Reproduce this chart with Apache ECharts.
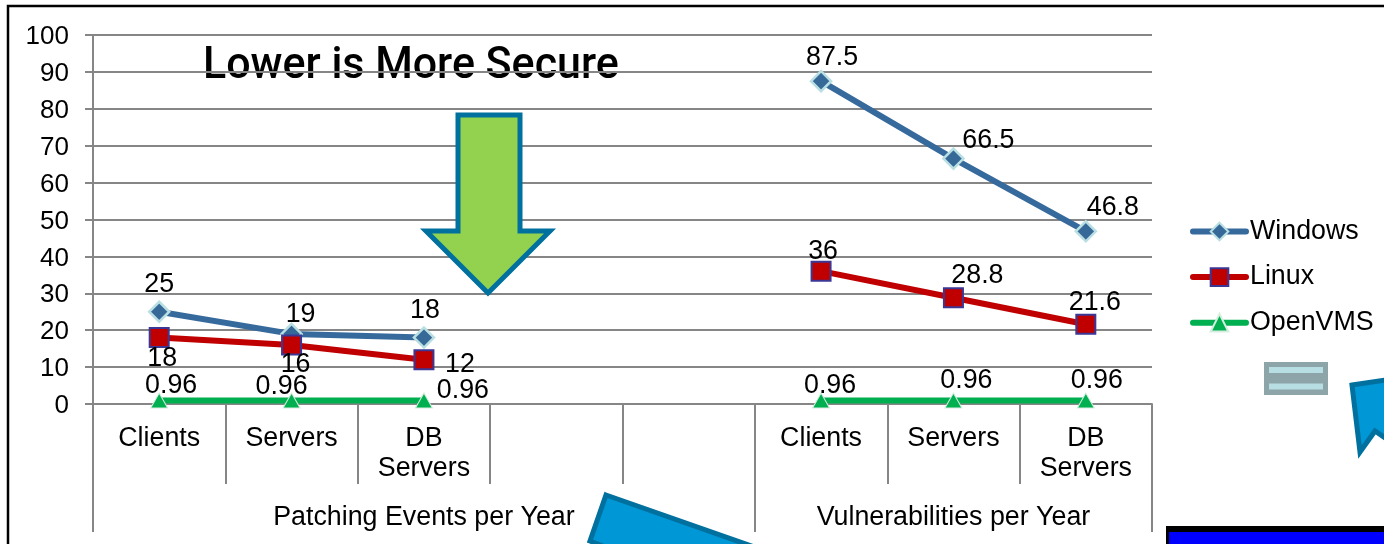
<!DOCTYPE html>
<html>
<head>
<meta charset="utf-8">
<style>html,body{margin:0;padding:0;background:#fff;overflow:hidden}#c{width:1384px;height:544px}</style>
<script src="https://cdn.jsdelivr.net/npm/echarts@6/dist/echarts.min.js"></script>
</head>
<body>
<div id="c"></div>
<script>
const chartTitle = 'Lower is More Secure';
const categories = ['Clients','Servers','DB\nServers','','','Clients','Servers','DB\nServers'];
const groupLabels = ['','','Patching Events per Year','','','','Vulnerabilities per Year',''];
const yTicks = {min:0,max:100,step:10};
const windows = [25,19,18,null,null,87.5,66.5,46.8];
const linux = [18,16,12,null,null,36,28.8,21.6];
const openvms = [0.96,0.96,0.96,null,null,0.96,0.96,0.96];
const windowsOffsets = [[0,-27],[9,-19],[1,-27],null,null,[11,-24],[35,-18],[27,-24]];
const linuxOffsets = [[3,21],[4,20],[36,5],null,null,[2,-20],[24,-22],[9,-22]];
const openvmsOffsets = [[12,-15],[-10,-14],[39,-10],null,null,[9,-15],[13,-20],[11,-20]];
const FONT = '"Liberation Sans", Arial, sans-serif';
const GRAY = '#868686';
const FS = 26.8;

function seriesOf(name, values, offsets, color, symbol, size, border, bw){
  return {
    name, type:'line', xAxisIndex:0, yAxisIndex:0, symbol, symbolSize:size,
    connectNulls:false, animation:false, z:3,
    lineStyle:{color,width:6,cap:'round'},
    itemStyle:{color: name==='Windows' ? '#366898' : color, borderColor:border, borderWidth:bw},
    emphasis:{disabled:true},
    data: values.map((v,i)=> v===null ? null : ({
      value:v,
      label:{show:true, position:'inside', offset:offsets[i], color:'#000', fontSize:FS, fontFamily:FONT,
             align:'center', verticalAlign:'middle',
             formatter:String(v)}
    }))
  };
}

const chart = echarts.init(document.getElementById('c'), null, {renderer:'canvas'});
const arrowStroke = '#00709F';
chart.setOption({
  animation:false,
  backgroundColor:'#fff',
  legend:{
    orient:'vertical', left:1190, top:218, itemWidth:53, itemHeight:22, itemGap:18.6,
    padding:0,
    lineStyle:{width:6},
    textStyle:{color:'#000', fontSize:FS, fontFamily:FONT, padding:[3,0,0,-1]},
    data:['Windows','Linux','OpenVMS']
  },
  grid:[
    {left:93, top:35, width:1059, height:369},
    {left:93, top:35, width:1059, height:369}
  ],
  xAxis:[
    {type:'category', gridIndex:0, data:categories, boundaryGap:true, position:'bottom',
     axisLine:{lineStyle:{color:GRAY,width:2}},
     axisTick:{show:true,length:80,interval:0,lineStyle:{color:GRAY,width:2}},
     axisLabel:{interval:0,margin:20,color:'#000',fontSize:FS,fontFamily:FONT,lineHeight:30,hideOverlap:false}},
    {type:'category', gridIndex:1, data:groupLabels, boundaryGap:true, position:'bottom',
     axisLine:{show:false},
     axisTick:{show:true,length:128,interval:(i)=>i===0||i===5,lineStyle:{color:GRAY,width:2}},
     axisLabel:{interval:0,margin:99,color:'#000',fontSize:FS,fontFamily:FONT,lineHeight:30,hideOverlap:false}}
  ],
  yAxis:[
    {type:'value', gridIndex:0, min:yTicks.min, max:yTicks.max, interval:yTicks.step,
     axisLine:{show:true,lineStyle:{color:GRAY,width:2}},
     axisTick:{show:true,length:8,lineStyle:{color:GRAY,width:2}},
     splitLine:{show:true,lineStyle:{color:GRAY,width:2}},
     axisLabel:{margin:24,color:'#000',fontSize:26,fontFamily:FONT,verticalAlign:'top',lineHeight:4,
                showMinLabel:true,showMaxLabel:true}},
    {type:'value', gridIndex:1, min:yTicks.min, max:yTicks.max, show:false}
  ],
  series:[
    seriesOf('Windows',windows,windowsOffsets,'#376A9C','diamond',20,'#B9DFE3',2.5),
    seriesOf('Linux',linux,linuxOffsets,'#C00000','rect',19,'#3B3795',2),
    seriesOf('OpenVMS',openvms,openvmsOffsets,'#00B050','triangle',[17,15],'#D5EEDF',1)
  ],
  graphic:[
    {type:'text',z:-1,x:203,y:67,scaleX:0.955,silent:true,
     style:{text:chartTitle,fill:'#000',font:'500 45px Roboto, sans-serif',verticalAlign:'middle',align:'left'}},
    {type:'rect',z:50,shape:{x:8,y:6,width:1500,height:700},style:{fill:'none',stroke:'#000',lineWidth:2.5}},
    {type:'polygon',z:50,shape:{points:[[458,115],[520,115],[520,231],[550,231],[488,293],[426,231],[458,231]]},
     style:{fill:'#92D24F',stroke:arrowStroke,lineWidth:5}},
    {type:'polygon',z:50,shape:{points:[[606,495],[760,549],[740,600],[590,541]]},
     style:{fill:'#0097D6',stroke:arrowStroke,lineWidth:5}},
    {type:'polygon',z:50,shape:{points:[[1352,385],[1400,378],[1400,448],[1375,431],[1360,452]]},
     style:{fill:'#0097D6',stroke:arrowStroke,lineWidth:5}},
    {type:'rect',z:50,shape:{x:1264,y:362,width:64,height:33},style:{fill:'#8DA5A8'}},
    {type:'rect',z:51,shape:{x:1269,y:367,width:54,height:6},style:{fill:'#B7DEE3'}},
    {type:'rect',z:51,shape:{x:1269,y:383.5,width:54,height:6},style:{fill:'#B7DEE3'}},
    {type:'rect',z:52,shape:{x:1166,y:526,width:300,height:100},style:{fill:'#000'}},
    {type:'rect',z:53,shape:{x:1169,y:532,width:300,height:100},style:{fill:'#0000FF'}}
  ]
});
</script>
</body>
</html>
